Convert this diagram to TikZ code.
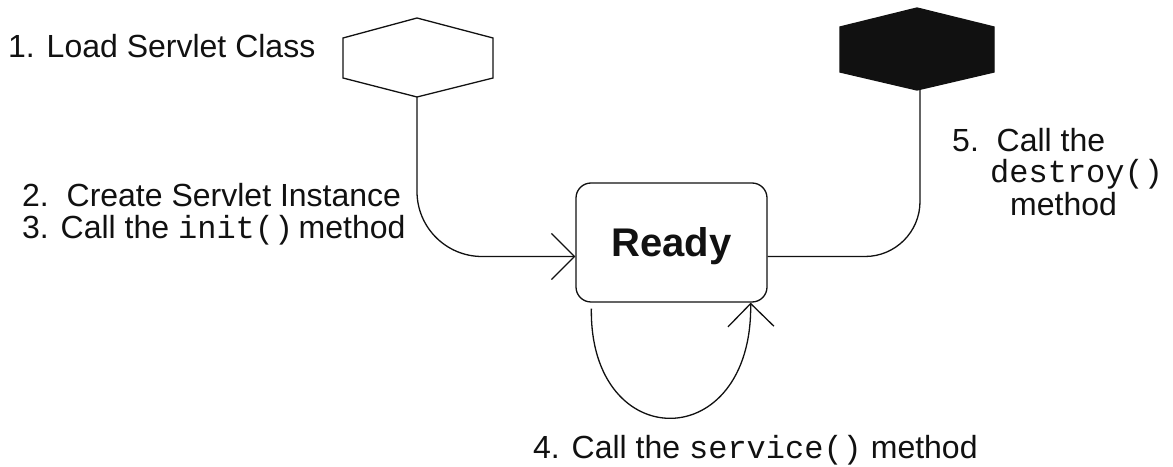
\documentclass[tikz,border=0pt]{standalone}
\usepackage{fontspec}
\setmainfont{Liberation Sans}
\setmonofont{Liberation Mono}
\usetikzlibrary{arrows.meta}
\definecolor{LCInk}{HTML}{111111}

\tikzset{
  lcline/.style={LCInk,line width=1.3pt},
  lctip/.style={-{Straight Barb[length=23pt,width=46pt]}},
  lclabel/.style={anchor=base west,inner sep=0pt,text=LCInk,font=\fontsize{32}{36}\selectfont},
  readybox/.style={lcline,draw,rounded corners=15pt,minimum width=191pt,minimum height=119pt,
    inner sep=0pt,text height=29pt,text depth=0pt,font=\fontsize{40}{44}\selectfont\bfseries},
}

\begin{document}
\begin{tikzpicture}[x=1pt,y=1pt]
\path[use as bounding box] (0,0) rectangle (1173,466);
\fill[white] (0,0) rectangle (1173,466);
\draw[lcline] (343,388) -- (343,428) -- (417,448) -- (493,428) -- (493,388) -- (417,369) -- cycle;
\coordinate (loadhex) at (417,369);
\filldraw[lcline] (840,394) -- (840,439) -- (917,458) -- (994,439) -- (994,394) -- (917,376) -- cycle;
\coordinate (endhex) at (920,377);
\node[readybox] (ready) at (671.5,223.5) {Ready};
\draw[lcline,lctip,rounded corners=65pt] (loadhex) |- ([yshift=-14pt]ready.west);
\draw[lcline,rounded corners=55pt] ([yshift=-14pt]ready.east) -| (endhex);
\draw[lcline,lctip] ([shift={(16pt,-6pt)}]ready.south west) .. controls +(-2,-147) and +(2,-153) .. ([xshift=-17pt]ready.south east);
\node[lclabel] (loadlbl) at (8,408) {1. Load Servlet Class};
\node[lclabel] (createlbl) at (22,259) {2.\ \ Create Servlet Instance};
\node[lclabel] (initlbl) at (22,227) {3. Call the \texttt{init()}\,method};
\node[lclabel] (servicelbl) at (533,7) {4. Call the \texttt{service()} method};
\node[lclabel] (destroylbl) at (952,314) {5.\ \ Call the};
\node[lclabel] (destroycode) at (990,283) {\texttt{destroy()}};
\node[lclabel] (methodlbl) at (1010,250) {method};
\end{tikzpicture}
\end{document}
